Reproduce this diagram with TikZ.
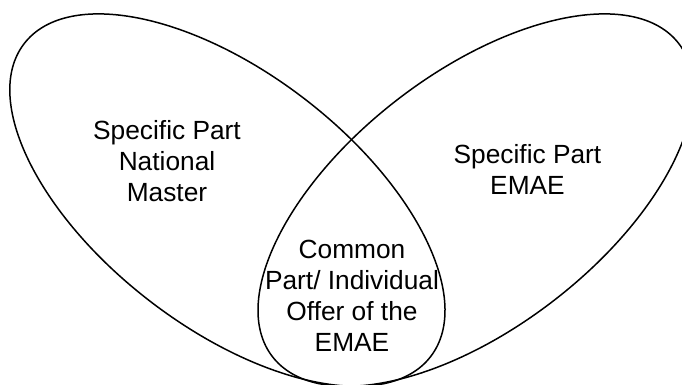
\documentclass[tikz,border=0pt]{standalone}
\usepackage{fontspec}
\setmainfont{Liberation Sans}
\usetikzlibrary{shapes.geometric}
\begin{document}
\begin{tikzpicture}[x=1pt,y=-1pt,
  venn/.style={draw, ellipse, line width=1.5pt, minimum width=513pt, minimum height=254.6pt, inner sep=0pt},
  lbl/.style={align=center, font=\fontsize{26.3}{31}\selectfont, inner sep=0pt, anchor=base}]
\useasboundingbox (0,0) rectangle (682,385);
\clip (0,0) rectangle (682,385);
\node[venn, rotate=-37.6] (left) at (227.4,200.1) {};
\node[venn, rotate=37.6] (right) at (475.6,200.1) {};
\node[lbl] (nat) at (167,201.5) {Specific Part\\National\\Master};
\node[lbl] (emae) at (527.5,194.8) {Specific Part\\EMAE};
\node[lbl] (common) at (352,351.5) {Common\\Part/ Individual\\Offer of the\\EMAE};
\end{tikzpicture}
\end{document}
